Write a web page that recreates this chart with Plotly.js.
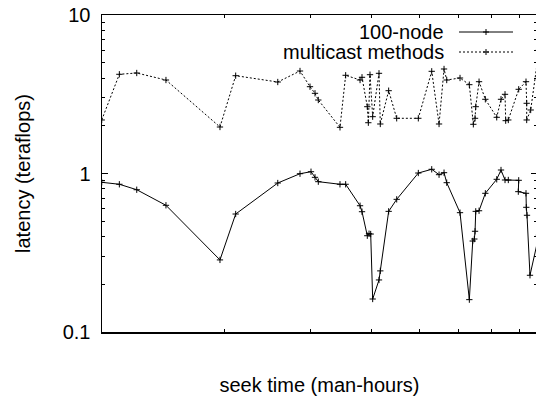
<!DOCTYPE html>
<html><head><meta charset="utf-8">
<script src="https://cdn.plot.ly/plotly-3.0.1.min.js"></script>
<style>html,body{margin:0;padding:0;overflow:hidden;background:#fff}#chart{width:538px;height:396px}</style>
</head><body><div id="chart"></div>
<script>
const seriesNames = ["100-node", "multicast methods"];
const nodeX = [1.126,1.223,1.327,1.522,1.961,2.111,2.572,2.855,3.006,3.063,3.111,3.444,3.537,3.784,3.819,3.915,3.947,3.978,4.015,4.136,4.161,4.328,4.494,4.974,5.297,5.482,5.612,5.683,6.049,6.319,6.421,6.469,6.491,6.512,6.614,6.812,7.186,7.332,7.471,7.587,7.967,7.952,8.244,8.256,8.283,8.400,8.76];
const nodeY = [0.880,0.855,0.790,0.630,0.285,0.555,0.871,0.997,1.026,0.946,0.888,0.855,0.855,0.626,0.574,0.405,0.417,0.415,0.1615,0.213,0.243,0.577,0.687,1.007,1.063,0.983,1.012,0.875,0.566,0.160,0.375,0.386,0.432,0.577,0.582,0.750,0.919,1.052,0.910,0.910,0.906,0.768,0.750,0.612,0.545,0.228,0.408];
const mcastX = [1.126,1.223,1.327,1.522,1.961,2.111,2.572,2.855,2.992,3.063,3.111,3.444,3.537,3.784,3.819,3.915,3.934,3.965,4.015,4.136,4.161,4.328,4.494,4.974,5.297,5.482,5.612,5.683,6.049,6.319,6.439,6.491,6.512,6.614,6.812,7.186,7.332,7.471,7.495,7.587,7.967,8.244,8.271,8.271,8.428,8.76];
const mcastY = [2.176,4.226,4.306,3.889,1.965,4.141,3.778,4.433,3.529,3.206,2.909,1.956,4.165,3.889,4.046,2.639,2.091,4.201,2.283,4.287,2.053,3.330,2.230,2.230,4.413,2.053,4.564,3.889,4.005,3.634,2.044,2.230,2.639,3.795,2.939,2.262,2.939,3.160,2.154,2.176,3.398,3.795,2.773,2.176,2.516,6.0];
const yTickVals = [0.1, 1, 10];
const yTickText = ["0.1", "1", "10"];
const yMinorVals = [0.2,0.3,0.4,0.5,0.6,0.7,0.8,0.9,2,3,4,5,6,7,8,9];
const xTickVals = [2,3,4,5,6,7,8,9];
const xTitle = "seek time (man-hours)";
const yTitle = "latency (teraflops)";

const FONT = "Liberation Sans, Arial, Helvetica, sans-serif";
const marker = {symbol: "cross-thin-open", size: 4.5, color: "black", line: {color: "black", width: 1}};

const traces = [
  {x: nodeX, y: nodeY, name: seriesNames[0], type: "scatter", mode: "lines+markers",
   line: {color: "black", width: 1}, marker: marker, cliponaxis: true},
  {x: mcastX, y: mcastY, name: seriesNames[1], type: "scatter", mode: "lines+markers",
   line: {color: "black", width: 1, dash: "2px,2px"}, marker: marker, cliponaxis: true}
];

const W = 538, L = 102, R = 1, T = 15, B = 64;
const pw = W - L - R, ph = 396 - T - B;
function px2paperX(p) { return (p - L) / pw; }
function px2paperY(p) { return (396 - B - p) / ph; }

const legendRows = [
  {label: seriesNames[0], y: 32, dash: "solid"},
  {label: seriesNames[1], y: 52, dash: "2px,2px"}
];
const annotations = [], shapes = [];
legendRows.forEach(r => {
  annotations.push({xref: "paper", yref: "paper", x: px2paperX(446), y: px2paperY(r.y),
    xanchor: "right", yanchor: "middle", showarrow: false, text: r.label,
    font: {family: FONT, size: 20, color: "black"}});
  shapes.push({type: "line", xref: "paper", yref: "paper",
    x0: px2paperX(459), x1: px2paperX(513), y0: px2paperY(r.y), y1: px2paperY(r.y),
    line: {color: "black", width: 1, dash: r.dash}});
  shapes.push({type: "path", xref: "paper", yref: "paper", xsizemode: "pixel", ysizemode: "pixel",
    xanchor: px2paperX(486), yanchor: px2paperY(r.y), path: "M-3,0H3M0,-3V3",
    line: {color: "black", width: 1}});
});

const layout = {
  width: W, height: 396,
  margin: {l: L, r: R, t: T, b: B, pad: 0},
  paper_bgcolor: "white", plot_bgcolor: "white",
  showlegend: false,
  font: {family: FONT, size: 20, color: "black"},
  xaxis: {type: "log", range: [0.05207, 0.93856], showticklabels: false,
    tickmode: "array", tickvals: xTickVals, ticks: "inside", ticklen: 3, tickwidth: 1, tickcolor: "black",
    showline: true, linecolor: "black", linewidth: 1.5, mirror: "ticks",
    showgrid: false, zeroline: false,
    title: {text: xTitle, font: {family: FONT, size: 20, color: "black"}, standoff: 45}},
  yaxis: {type: "log", range: [-1, 1],
    tickmode: "array", tickvals: yTickVals, ticktext: yTickText, ticks: "inside", ticklen: 6, tickwidth: 1, tickcolor: "black",
    minor: {tickmode: "array", tickvals: yMinorVals, ticks: "inside", ticklen: 3, tickwidth: 1, tickcolor: "black", showgrid: false},
    showline: true, linecolor: "black", linewidth: 1.5, mirror: "ticks",
    showgrid: false, zeroline: false, ticklabelstandoff: 6,
    tickfont: {family: FONT, size: 20, color: "black"},
    title: {text: yTitle, font: {family: FONT, size: 20, color: "black"}, standoff: 26}},
  annotations: annotations,
  shapes: shapes
};

Plotly.newPlot("chart", traces, layout, {staticPlot: true, displayModeBar: false});
</script>
</body></html>
